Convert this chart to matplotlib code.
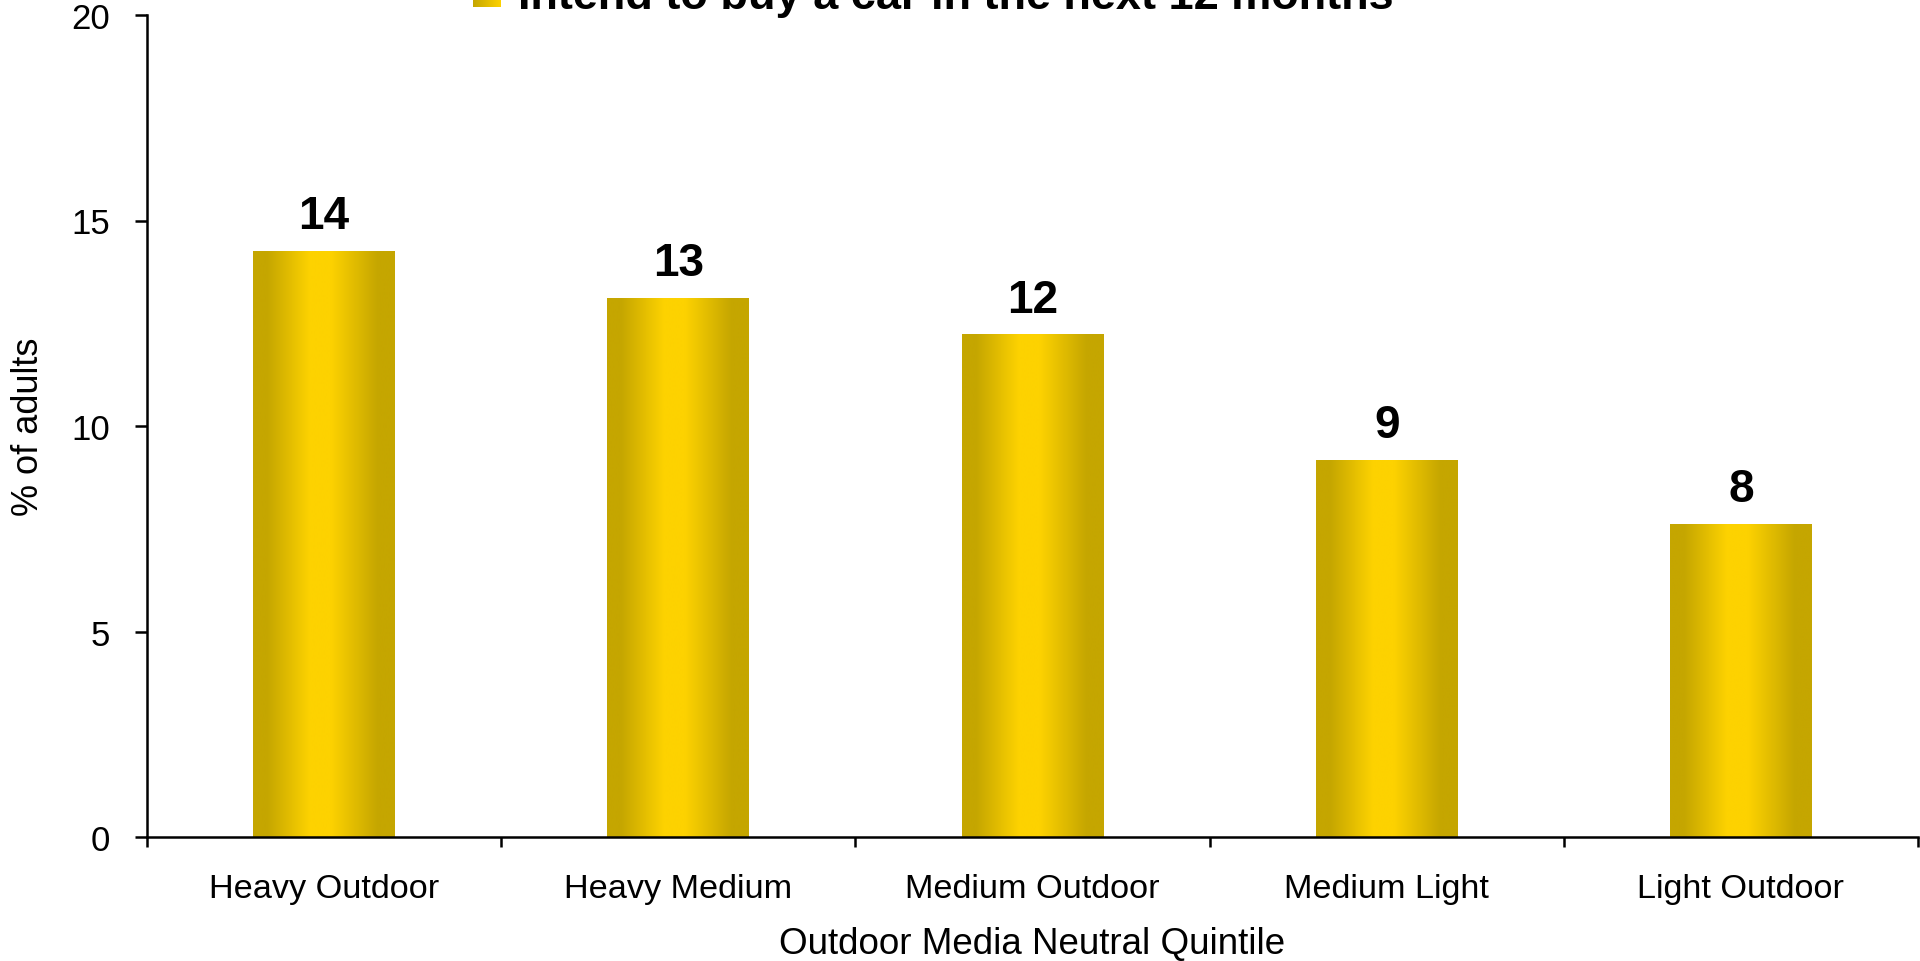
import numpy as np
import matplotlib
matplotlib.use("Agg")
import matplotlib.pyplot as plt
from matplotlib.patches import Patch
from matplotlib.legend_handler import HandlerPatch
from matplotlib.colors import LinearSegmentedColormap
from matplotlib.image import BboxImage
from matplotlib.transforms import Bbox, TransformedBbox

plt.rcParams['font.family'] = ['Liberation Sans', 'DejaVu Sans']

# Data
categories = ["Heavy Outdoor", "Heavy Medium", "Medium Outdoor", "Medium Light", "Light Outdoor"]
values = [14.26, 13.12, 12.23, 9.17, 7.62]
series_name = "Intend to buy a car in the next 12 months"
y_ticks = [0, 5, 10, 15, 20]

# Gold cylinder-like shading across each bar
dark = np.array([197, 166, 0]) / 255
bright = np.array([253, 210, 0]) / 255
knots_x = [0.0, 0.10, 0.40, 0.55, 0.88, 1.0]
knots_t = [0.0, 0.0, 1.0, 1.0, 0.0, 0.0]
xs = np.linspace(0, 1, 256)
ts = np.interp(xs, knots_x, knots_t)
grad = (dark[None, :] * (1 - ts[:, None]) + bright[None, :] * ts[:, None])[None, :, :]

fig = plt.figure(figsize=(19.2, 9.62), dpi=100)
ax = fig.add_axes([147 / 1920, 1 - 838 / 962, (1918 - 147) / 1920, (838 - 16) / 962])

x = np.arange(len(categories))
bar_w = 0.40
bars = ax.bar(x, values, width=bar_w, facecolor='none', edgecolor='none', zorder=2)
for b in bars:
    x0 = b.get_x()
    im = ax.imshow(grad, extent=[x0, x0 + b.get_width(), 0, b.get_height()],
                   aspect='auto', interpolation='bilinear', zorder=2)
    im.set_clip_path(b)

for xi, v in zip(x, values):
    ax.annotate(f"{round(v):d}", xy=(xi, v), xytext=(0, 16.3), textcoords='offset points',
                ha='center', va='baseline', fontsize=33, fontweight='bold', color='black')

ax.set_xlim(-0.5, len(categories) - 0.5)
ax.set_ylim(0, 20)
ax.set_yticks(y_ticks)
ax.set_xticks(x)
ax.set_xticklabels(categories)
ax.set_xticks(np.arange(-0.5, len(categories)), minor=True)

for s in ['top', 'right']:
    ax.spines[s].set_visible(False)
for s in ['left', 'bottom']:
    ax.spines[s].set_linewidth(1.8)
    ax.spines[s].set_zorder(3)

ax.tick_params(axis='y', direction='out', length=8.6, width=1.8, pad=18, labelsize=25)
ax.tick_params(axis='x', which='major', length=0, pad=26, labelsize=24.7)
ax.tick_params(axis='x', which='minor', direction='out', length=7, width=1.8)

ax.set_xlabel("Outdoor Media Neutral Quintile", fontsize=26.5, labelpad=15.5)
ax.set_ylabel("% of adults", fontsize=26, labelpad=18.5)


class GradientHandler(HandlerPatch):
    def create_artists(self, legend, orig_handle, xdescent, ydescent, width, height, fontsize, trans):
        cmap = LinearSegmentedColormap.from_list("gold", [dark, bright])
        arr = np.linspace(0, 1, 64)[None, :]
        bb = Bbox.from_bounds(-xdescent, -ydescent, width, height)
        img = BboxImage(TransformedBbox(bb, trans), cmap=cmap, interpolation='bilinear')
        img.set_data(arr)
        return [img]


handle = Patch(facecolor=bright, label=series_name)
fig.legend(handles=[handle], loc='center', bbox_to_anchor=(933 / 1920, 1 + 2 / 962),
           frameon=False, prop={'weight': 'bold', 'size': 32.5},
           handlelength=0.62, handleheight=0.62, handletextpad=0.37,
           handler_map={Patch: GradientHandler()})

fig.savefig("out.png", dpi=100, facecolor='white')
